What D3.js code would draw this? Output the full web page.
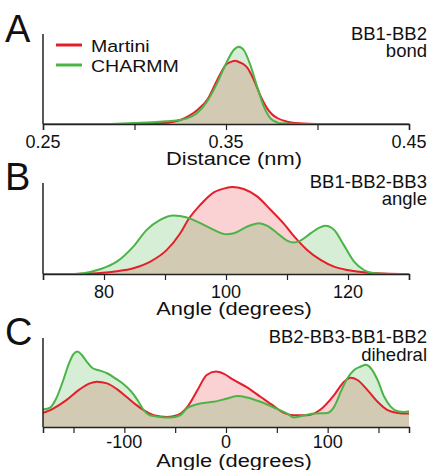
<!DOCTYPE html>
<html>
<head>
<meta charset="utf-8">
<script src="https://cdn.jsdelivr.net/npm/d3@7"></script>
<style>
  body { margin: 0; background: #fff; }
  svg text { font-family: Arial, "Liberation Sans", sans-serif; fill: #111; }
</style>
</head>
<body>
<svg id="chart" width="431" height="470"></svg>
<script>
// panel A: BB1-BB2 bond (nm), heights in arbitrary density units
const bondMartini = [[0.25,0],[0.29,0],[0.30,0],[0.31,1],[0.32,5],[0.33,25],[0.335,45],[0.34,75],[0.345,130],[0.35,178],[0.3535,188],[0.355,190],[0.357,186],[0.36,178],[0.3615,170],[0.365,135],[0.3688,85],[0.3725,47],[0.375,30],[0.378,18],[0.3835,7],[0.39,2],[0.40,0],[0.45,0]]
const bondCharmm = [[0.25,0],[0.28,0],[0.29,1],[0.30,3],[0.31,5],[0.3176,8],[0.325,12],[0.3286,17],[0.3341,32],[0.3396,67],[0.3451,122],[0.3505,187],[0.3542,222],[0.3569,232],[0.3597,222],[0.3633,177],[0.367,112],[0.3707,52],[0.3743,17],[0.378,5],[0.38,2],[0.39,0],[0.45,0]]

// panel B: BB1-BB2-BB3 angle (degrees)
const angleMartini = [[70,0],[75,0],[76.6,1],[79.3,3],[82.1,8],[84.8,17],[87.6,37],[90.3,72],[92.5,122],[93.9,165],[95.8,207],[98.0,244],[100,257],[101,260],[102.9,254],[105.1,232],[107.3,192],[109.5,150],[111.1,114],[113.3,72],[115.5,42],[117.7,22],[119.9,12],[122.1,6],[124.9,2],[128.7,0],[130,0]]
const angleCharmm = [[70,0],[75,0],[76.6,2],[79.3,14],[82.1,37],[84.8,82],[87.0,132],[89.2,162],[91.4,175],[93.6,169],[95.8,152],[98.0,132],[100,119],[101.3,122],[103.5,142],[105.4,152],[106.8,144],[108.4,122],[110.0,100],[111.1,94],[112.2,100],[113.9,122],[115.5,140],[116.3,144],[117.7,132],[119.3,87],[121.0,37],[122.6,12],[124.3,2],[126.5,0],[130,0]]

// panel C: BB2-BB3-BB1-BB2 dihedral (degrees)
const dihedMartini = [[-180,42],[-170,55],[-157,80],[-144,112],[-134,130],[-127,135],[-117,130],[-107,112],[-98,90],[-88,65],[-81,50],[-71,35],[-58,30],[-48,35],[-38,60],[-28,110],[-19,155],[-10,165],[-2,158],[7.6,140],[20.7,118],[33.9,90],[47.1,62],[56.9,42],[66.8,35],[80,35],[93,52],[106.3,95],[116.1,135],[122.7,147],[129.3,140],[139.2,110],[149.1,75],[158.9,50],[168.8,42],[180,40]]
const dihedCharmm = [[-180,52],[-173,58],[-167,85],[-160,140],[-155,185],[-150,217],[-146,225],[-142,215],[-137,195],[-131,175],[-124,168],[-117,160],[-109,145],[-101,128],[-93,105],[-86,75],[-81,50],[-75,35],[-65,30],[-55,28],[-45,35],[-38.5,55],[-25.3,70],[-12.2,75],[0,84],[10.9,92],[20.7,88],[33.9,75],[47.1,58],[60.2,40],[66.8,28],[73.4,32],[86.5,40],[99.7,42],[106.3,60],[112.9,105],[119.4,145],[126.0,170],[132.6,180],[137.5,185],[142.5,175],[149.1,140],[155.6,90],[162.2,60],[168.8,47],[175.4,45],[180,47]]

const panels = [
  {letter:"A", top:34, base:124, domain:[0.25,0.45], ticks:[0.25,0.30,0.35,0.40,0.45], labels:[0.25,0.35,0.45],
   fmt:d3.format(".2f"), ymax:270, series:[bondMartini,bondCharmm], xlabel:"Distance (nm)",
   title:["BB1-BB2","bond"], titleY:39.5, letterY:42, labelY:148, xlabelY:165},
  {letter:"B", top:183, base:274, domain:[70,130], ticks:[70,80,90,100,110,120,130], labels:[80,100,120],
   fmt:d3.format("d"), ymax:272, series:[angleMartini,angleCharmm], xlabel:"Angle (degrees)",
   title:["BB1-BB2-BB3","angle"], titleY:187.5, letterY:189.5, labelY:298, xlabelY:315},
  {letter:"C", top:338, base:427, domain:[-180,180], ticks:[-150,-100,-50,0,50,100,150], labels:[-100,0,100],
   fmt:d3.format("d"), ymax:265, series:[dihedMartini,dihedCharmm], xlabel:"Angle (degrees)",
   title:["BB2-BB3-BB1-BB2","dihedral"], titleY:343, letterY:345, labelY:448, xlabelY:466.5}
]

const colors = ["#e3202a", "#4cb447"]
const fills = ["rgba(230,30,40,0.2)", "rgba(50,170,50,0.2)"]
const names = ["Martini", "CHARMM"]

const svg = d3.select("#chart")
const left = 43, right = 409

panels.forEach(function(p){
  const x = d3.scaleLinear().domain(p.domain).range([left, right])
  const y = d3.scaleLinear().domain([0, p.ymax]).range([p.base, p.top])
  const g = svg.append("g")

  const area = d3.area().x(d => x(d[0])).y0(p.base).y1(d => y(d[1])).curve(d3.curveMonotoneX)
  const line = d3.line().x(d => x(d[0])).y(d => y(d[1])).curve(d3.curveMonotoneX)

  p.series.forEach(function(s,i){
    g.append("path").attr("d", area(s)).attr("fill", fills[i])
  })
  p.series.forEach(function(s,i){
    g.append("path").attr("d", line(s)).attr("fill","none")
      .attr("stroke", colors[i]).attr("stroke-width", 2)
  })

  // axes
  const xAxis = d3.axisBottom(x).tickValues(p.ticks).tickSize(6).tickFormat("")
  const ax = g.append("g").attr("transform", `translate(0,${p.base})`).call(xAxis)
  ax.select(".domain").attr("stroke","#222").attr("stroke-width",1.5)
  ax.selectAll(".tick line").attr("stroke","#222").attr("stroke-width",1.2)
  g.append("line").attr("x1",left).attr("x2",left).attr("y1",p.top).attr("y2",p.base)
    .attr("stroke","#222").attr("stroke-width",1.5)

  g.selectAll(".lbl").data(p.labels).enter().append("text")
    .attr("x", d => x(d)).attr("y", p.labelY)
    .attr("text-anchor","middle").attr("font-size",18)
    .text(d => d < 0 ? "-" + p.fmt(-d) : p.fmt(d))

  // axis title, slightly wider type as in the figure
  g.append("text").attr("transform",`translate(234,${p.xlabelY}) scale(1.15,1)`)
    .attr("text-anchor","middle").attr("font-size",19).text(p.xlabel)

  g.append("text").attr("x",5).attr("y",p.letterY).attr("font-size",38).text(p.letter)

  // two-line panel title, right aligned
  p.title.forEach(function(t,i){
    g.append("text").attr("x",427).attr("y",p.titleY + i*17.5).attr("text-anchor","end")
      .attr("font-size",18.5).text(t)
  })
})

// legend
const leg = svg.append("g")
names.forEach(function(n,i){
  leg.append("line").attr("x1",56).attr("x2",82).attr("y1",45+i*20).attr("y2",45+i*20)
    .attr("stroke",colors[i]).attr("stroke-width",3)
  leg.append("text").attr("transform",`translate(91,${51.5+i*20.5}) scale(1.15,1)`)
    .attr("font-size",17).text(n)
})
</script>
</body>
</html>
